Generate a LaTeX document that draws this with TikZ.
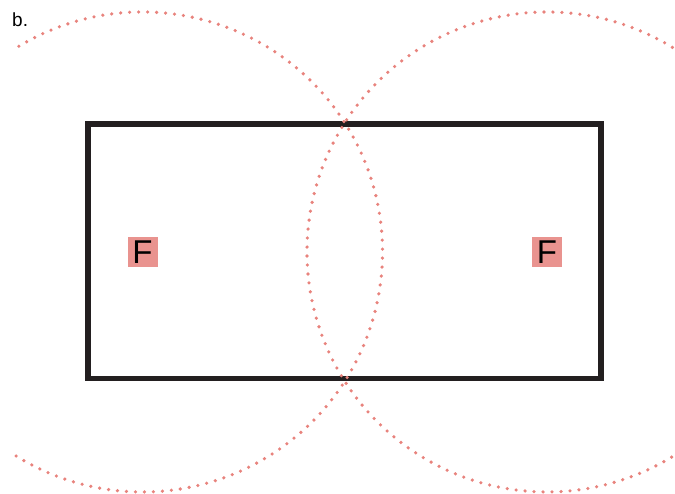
\documentclass[tikz,border=0pt]{standalone}
\usepackage{fontspec}
\setmainfont{Liberation Sans}
\definecolor{dotred}{HTML}{E8837D}
\definecolor{boxpink}{HTML}{E9938F}
\definecolor{framegray}{HTML}{231F20}
\tikzset{
  frame/.style={draw=framegray, line width=5.5pt},
  fieldarc/.style={draw=dotred, line width=3.6pt, line cap=round,
    dash pattern=on 0pt off 9pt},
  fbox/.style={rectangle, fill=boxpink, inner sep=0pt, minimum size=30pt,
    font=\fontsize{33}{33}\selectfont},
}
\begin{document}
\begin{tikzpicture}[x=1pt, y=1pt]
  \useasboundingbox (0,0) rectangle (675,494);
  \node[anchor=base west, inner sep=0pt, font=\fontsize{19}{19}\selectfont] (lbl) at (12,467) {b.};
  % magnet frame
  \draw[frame] (88,115.5) rectangle (601,370);
  % pole labels
  \node[fbox] (fl) at (142.5,242) {F};
  \node[fbox] (fr) at (547,242) {F};
  % field lines round the poles
  \draw[fieldarc] (fl.center) ++(121:240) arc[start angle=121, end angle=-123, radius=240];
  \draw[fieldarc] (fr.center) ++(58.5:240) arc[start angle=58.5, end angle=302.5, radius=240];
\end{tikzpicture}
\end{document}
